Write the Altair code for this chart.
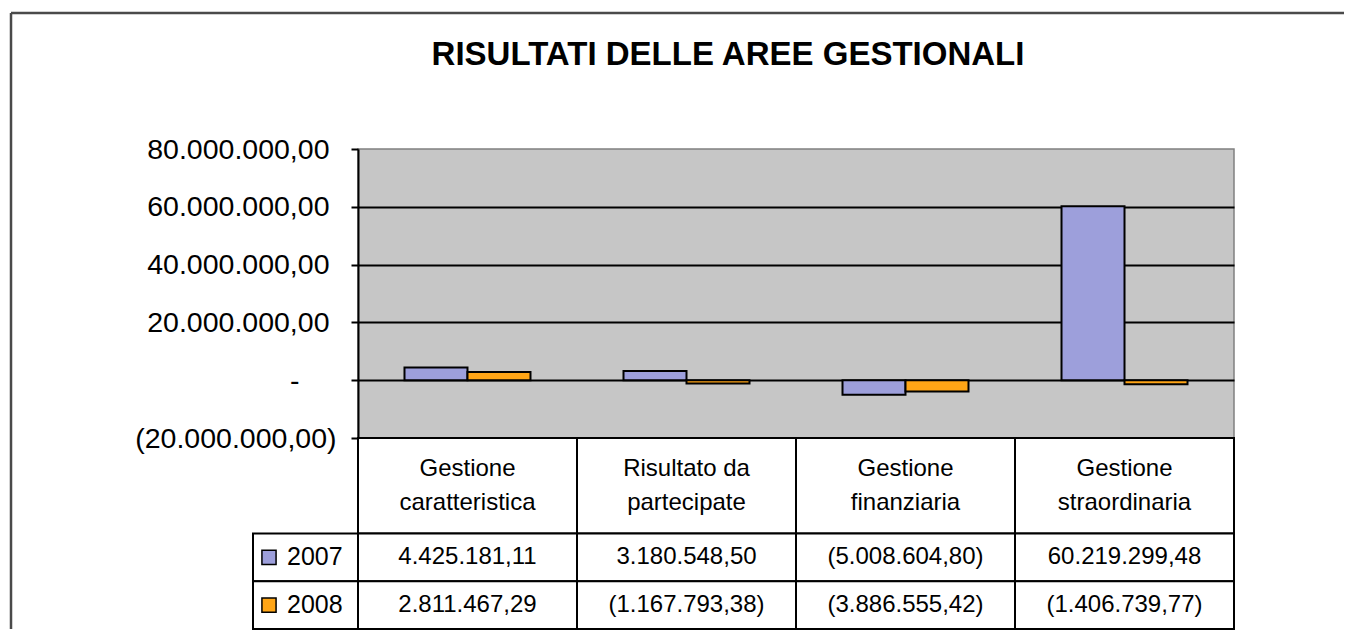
import altair as alt
import pandas as pd

# ---------------- data ----------------
title_text = "RISULTATI DELLE AREE GESTIONALI"
categories = ["Gestione caratteristica", "Risultato da partecipate",
              "Gestione finanziaria", "Gestione straordinaria"]
category_lines = ["Gestione\ncaratteristica", "Risultato da\npartecipate",
                  "Gestione\nfinanziaria", "Gestione\nstraordinaria"]
years = ["2007", "2008"]
values_2007 = [4425181.11, 3180548.50, -5008604.80, 60219299.48]
values_2008 = [2811467.29, -1167793.38, -3886555.42, -1406739.77]
y_ticks = [-20000000, 0, 20000000, 40000000, 60000000, 80000000]
y_tick_labels = ["(20.000.000,00)", "-", "20.000.000,00", "40.000.000,00",
                 "60.000.000,00", "80.000.000,00"]
colors = ["#9D9FDB", "#FFA516"]

FONT = "Liberation Sans"


def it_fmt(v):
    s = f"{abs(v):,.2f}".replace(",", "#").replace(".", ",").replace("#", ".")
    return f"({s})" if v < 0 else s


# ---------------- tables built from the arrays ----------------
series = {"2007": values_2007, "2008": values_2008}
bars_df = pd.DataFrame([
    {"category": c, "year": y, "value": series[y][i]}
    for y in years for i, c in enumerate(categories)
])

row_span = {"header": (0, 2), "2007": (2, 3), "2008": (3, 4)}
head_rows, val_rows = [], []
for i, c in enumerate(categories):
    y0, y1 = row_span["header"]
    head_rows.append({"category": c, "y0": y0, "y1": y1, "yc": (y0 + y1) / 2,
                      "label": category_lines[i]})
    for y in years:
        y0, y1 = row_span[y]
        val_rows.append({"category": c, "y0": y0, "y1": y1, "yc": (y0 + y1) / 2,
                         "label": it_fmt(series[y][i])})
head_df = pd.DataFrame(head_rows)
val_df = pd.DataFrame(val_rows)
cells_df = pd.concat([head_df, val_df], ignore_index=True)

legend_df = pd.DataFrame([
    {"year": y, "y0": row_span[y][0], "y1": row_span[y][1],
     "yc": (row_span[y][0] + row_span[y][1]) / 2}
    for y in years
])
one_row = pd.DataFrame({"k": [0]})

label_expr = "''"
for v, lab in zip(y_ticks, y_tick_labels):
    label_expr = f"datum.value == {v} ? '{lab}' : " + label_expr

color_scale = alt.Scale(domain=years, range=colors)

# ---------------- bar chart ----------------
bars = alt.Chart(bars_df).mark_bar(stroke="black", strokeWidth=2).encode(
    x=alt.X("category:N", sort=categories, axis=None,
            scale=alt.Scale(paddingInner=0.4247, paddingOuter=0.2123)),
    xOffset=alt.XOffset("year:N", sort=years,
                        scale=alt.Scale(paddingInner=0, paddingOuter=0)),
    y=alt.Y("value:Q", title=None,
            scale=alt.Scale(domain=[-20000000, 80000000], nice=False),
            axis=alt.Axis(values=y_ticks, labelExpr=label_expr, labelFont=FONT,
                          labelFontSize=28.5, labelColor="black", labelLimit=400,
                          labelPadding={"condition": [
                              {"test": "datum.value == 0", "value": 52},
                              {"test": "datum.value > 0", "value": 22}],
                              "value": 15},
                          domainColor="black", domainWidth=2,
                          tickColor="black", tickWidth=2, tickSize=7,
                          grid=True, gridColor="black", gridWidth=2,
                          gridOpacity={"condition": {"test": "datum.value == 80000000",
                                                     "value": 0}, "value": 1})),
    color=alt.Color("year:N", scale=color_scale, legend=None),
).properties(
    width=876, height=289,
    view=alt.ViewBackground(fill="#C6C6C6", stroke="#808080", strokeWidth=1.5),
    title=alt.TitleParams(title_text, font=FONT, fontSize=33, fontWeight="bold",
                          color="black", anchor="middle", frame="group",
                          dx=-68, offset=63),
)

# ---------------- data table ----------------
x_tab = alt.X("category:N", sort=categories, axis=None,
              scale=alt.Scale(paddingInner=0, paddingOuter=0))
y_scale = alt.Scale(domain=[0, 4], reverse=True, nice=False, zero=False)

cells = alt.Chart(cells_df).mark_rect(fill="white", stroke="black", strokeWidth=2).encode(
    x=x_tab,
    y=alt.Y("y0:Q", scale=y_scale, axis=None),
    y2="y1:Q",
)
head_text = alt.Chart(head_df).mark_text(
    font=FONT, fontSize=24, lineBreak="\n", lineHeight=34, color="black",
    baseline="middle", align="center", dy=-17,
).encode(
    x=x_tab,
    y=alt.Y("yc:Q", scale=y_scale, axis=None),
    text="label:N",
)
val_text = alt.Chart(val_df).mark_text(
    font=FONT, fontSize=24, color="black", baseline="middle", align="center",
).encode(
    x=x_tab,
    y=alt.Y("yc:Q", scale=y_scale, axis=None),
    text="label:N",
)
leg_cells = alt.Chart(legend_df).mark_rect(
    fill="white", stroke="black", strokeWidth=2, clip=False
).encode(
    x=alt.value(-105), x2=alt.value(0),
    y=alt.Y("y0:Q", scale=y_scale, axis=None), y2="y1:Q",
)
leg_sq = alt.Chart(legend_df).mark_point(
    shape="square", filled=True, size=200, stroke="black", strokeWidth=1.5,
    opacity=1, clip=False
).encode(
    x=alt.value(-89),
    y=alt.Y("yc:Q", scale=y_scale, axis=None),
    color=alt.Color("year:N", scale=color_scale, legend=None),
)
leg_text = alt.Chart(legend_df).mark_text(
    align="left", baseline="middle", font=FONT, fontSize=25, color="black", clip=False
).encode(
    x=alt.value(-71),
    y=alt.Y("yc:Q", scale=y_scale, axis=None),
    text="year:N",
)
frame_top = alt.Chart(one_row).mark_rule(color="#4a4a4a", strokeWidth=2.5, clip=False).encode(
    x=alt.value(-347), x2=alt.value(986), y=alt.value(-425)
)
frame_left = alt.Chart(one_row).mark_rule(color="#4a4a4a", strokeWidth=2.5, clip=False).encode(
    x=alt.value(-347), y=alt.value(-425), y2=alt.value(191)
)

table = alt.layer(cells, head_text, val_text, leg_cells, leg_sq, leg_text,
                  frame_top, frame_left).properties(
    width=876, height=191,
    view=alt.ViewBackground(stroke="transparent"),
)

chart = alt.vconcat(bars, table, spacing=0, bounds="flush").properties(
    padding={"left": 1, "top": 3, "right": 0, "bottom": 0},
    background="white",
).configure(font=FONT)

chart.save("out.html", embed_options={"renderer": "svg", "actions": False})
